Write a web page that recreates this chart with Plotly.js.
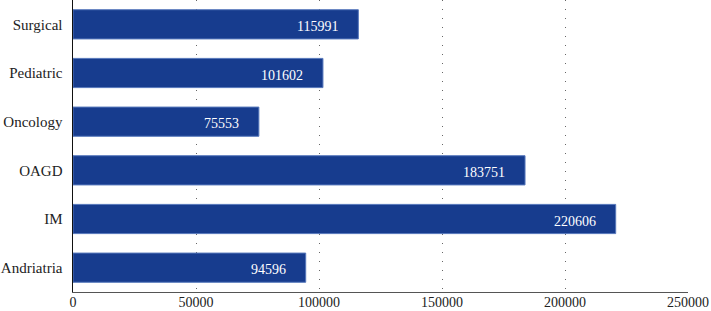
<!DOCTYPE html>
<html><head><meta charset="utf-8">
<script src="https://cdn.plot.ly/plotly-3.0.1.min.js"></script>
<style>html,body{margin:0;padding:0;background:#fff}#c{width:711px;height:311px}</style>
</head><body><div id="c"></div>
<script>
const categories = ["Andriatria", "IM", "OAGD", "Oncology", "Pediatric", "Surgical"];
const values = [94596, 220606, 183751, 75553, 101602, 115991];
const tickVals = [0, 50000, 100000, 150000, 200000, 250000];
const tickText = ["0", "50000", "100000", "150000", "200000", "250000"];

const font = "Liberation Serif, Times New Roman, serif";
const trace = {
  type: "bar", orientation: "h", x: values, y: categories,
  marker: {color: "#173C8E", line: {color: "#5577BB", width: 1}},
  width: 0.6, hoverinfo: "none"
};
const annotations = categories.map((c, i) => ({
  x: values[i], y: c, xref: "x", yref: "y", text: String(values[i]),
  showarrow: false, xanchor: "right", xshift: -18, yshift: -2,
  font: {family: font, size: 14, color: "#ffffff"}
}));
const layout = {
  width: 711, height: 311,
  margin: {l: 73, r: 23, t: 0, b: 19},
  paper_bgcolor: "#fff", plot_bgcolor: "#fff",
  showlegend: false,
  font: {family: font, size: 14, color: "#222"},
  xaxis: {
    range: [0, 250000], tickvals: tickVals, ticktext: tickText,
    showgrid: true, gridcolor: "#666", griddash: "1px,8px", gridwidth: 1,
    zeroline: false, showline: true, linecolor: "#555", linewidth: 1,
    ticks: "", ticklabelstandoff: -3,
    tickfont: {family: font, size: 14, color: "#222"}
  },
  yaxis: {
    categoryorder: "array", categoryarray: categories,
    range: [-0.5, 5.5], showgrid: false, zeroline: false,
    showline: true, linecolor: "#111", linewidth: 1.5, ticks: "",
    ticklabelstandoff: 6,
    tickfont: {family: font, size: 15, color: "#222"}
  },
  annotations: annotations
};
Plotly.newPlot("c", [trace], layout, {displayModeBar: false, staticPlot: true});
</script></body></html>
